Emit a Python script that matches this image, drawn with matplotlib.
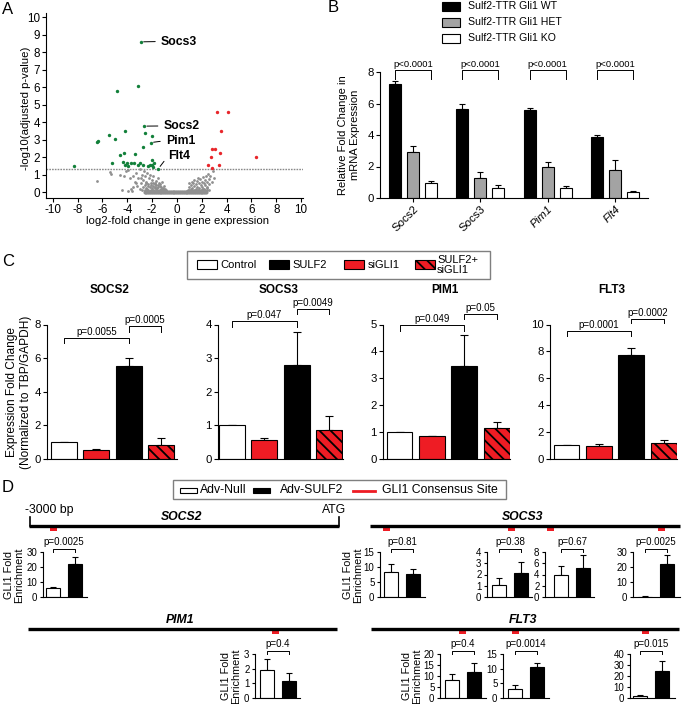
import numpy as np
import matplotlib
matplotlib.use('Agg')
import matplotlib.pyplot as plt
from matplotlib.patches import Rectangle

plt.rcParams['font.family'] = ['Liberation Sans', 'DejaVu Sans']
plt.rcParams['axes.unicode_minus'] = False
plt.rcParams['hatch.linewidth'] = 1.3
plt.rcParams['axes.linewidth'] = 0.8

RED = '#ee1c24'
W, H = 683, 704

# ---------------- A: volcano ----------------
green_pts = [(-2.9, 8.6), (-3.1, 6.08), (-4.85, 5.8), (-4.17, 3.52), (-2.64, 3.78),
             (-5.44, 3.3), (-4.98, 3.07), (-6.38, 2.95), (-6.46, 2.86), (-2.54, 3.41),
             (-1.97, 3.24), (-2.1, 2.84), (-2.75, 2.61), (-4.28, 2.27), (-4.58, 2.15),
             (-3.4, 2.21), (-2.0, 1.85), (-1.84, 1.7), (-8.31, 1.52), (-5.22, 1.7),
             (-4.36, 1.73), (-4.15, 1.54), (-3.93, 1.5), (-3.66, 1.7), (-3.45, 1.7),
             (-3.15, 1.54), (-2.97, 1.66), (-2.75, 1.54), (-2.16, 1.58), (-2.03, 1.54),
             (-1.92, 1.47), (-1.49, 1.35), (-2.35, 1.5), (-4.0, 1.7)]
red_pts = [(3.23, 4.57), (4.15, 4.57), (3.58, 3.49), (2.8, 2.46), (3.1, 2.46),
           (3.5, 2.27), (2.78, 2.04), (6.35, 2.04), (2.51, 1.58), (3.37, 1.58), (2.83, 1.41)]
gray_pts = [(-6.4, 0.65), (-5.4, 1.15), (-5.3, 1.05), (-4.6, 1.0), (-4.3, 0.9), (-4.1, 1.2),
            (-3.9, 1.25), (-3.7, 0.2), (-3.6, 0.05), (-3.5, 0.95), (-3.4, 0.6), (-3.3, 1.1),
            (-3.2, 0.35), (-3.1, 0.8), (-3.0, 1.3), (-2.9, 0.5), (-2.85, 1.0), (-2.8, 0.15),
            (-2.7, 0.7), (-2.65, 1.2), (-2.6, 0.4), (-2.55, 0.9), (-2.5, 0.25), (-2.45, 0.6),
            (-2.4, 1.1), (-2.35, 0.1), (-2.3, 0.45), (-2.25, 0.8), (-2.2, 0.3), (-2.15, 1.0),
            (-2.1, 0.55), (-2.05, 0.15), (-2.0, 0.7), (-1.95, 0.35), (-1.9, 0.9), (-1.85, 0.05),
            (-1.8, 0.5), (-1.75, 0.25), (-1.7, 0.65), (-1.65, 0.4), (-1.6, 0.1), (-1.55, 0.8),
            (-1.5, 0.3), (-1.45, 0.55), (-1.4, 0.15), (-1.35, 0.45), (-1.3, 0.05), (-1.25, 0.3),
            (-1.2, 0.6), (-1.15, 0.2), (-1.1, 0.1), (-1.05, 0.35), (-1.0, 0.05), (-0.95, 0.2),
            (-0.9, 0.1), (-0.85, 0.05), (-2.6, 0.1), (-2.4, 0.2), (-2.2, 0.05), (-2.0, 0.25),
            (-1.9, 0.15), (-1.8, 0.3), (-1.7, 0.1), (-1.6, 0.25), (-1.5, 0.05), (-1.4, 0.35),
            (-1.3, 0.2), (-1.2, 0.1), (-1.1, 0.25), (-2.3, 0.35), (-2.1, 0.4), (-1.95, 0.5),
            (-1.75, 0.45), (-1.55, 0.4), (-1.35, 0.15), (-2.5, 0.5), (-2.7, 0.3), (-3.0, 0.2),
            (-3.3, 0.5), (-3.5, 0.3), (-2.9, 0.8), (-3.8, 0.8), (-4.4, 0.15), (-3.9, 0.05),
            (0.85, 0.05), (0.9, 0.15), (0.95, 0.1), (1.0, 0.3), (1.05, 0.05), (1.1, 0.2),
            (1.15, 0.4), (1.2, 0.1), (1.25, 0.25), (1.3, 0.55), (1.35, 0.15), (1.4, 0.35),
            (1.45, 0.05), (1.5, 0.45), (1.55, 0.2), (1.6, 0.65), (1.65, 0.3), (1.7, 0.1),
            (1.75, 0.5), (1.8, 0.25), (1.85, 0.75), (1.9, 0.4), (1.95, 0.15), (2.0, 0.6),
            (2.05, 0.3), (2.1, 0.85), (2.15, 0.5), (2.2, 0.2), (2.25, 0.7), (2.3, 0.4),
            (2.35, 0.95), (2.4, 0.6), (2.45, 0.3), (2.5, 1.05), (2.55, 0.75), (2.6, 0.45),
            (2.7, 0.9), (2.8, 0.6), (2.9, 1.2), (3.0, 0.8), (1.0, 0.5), (1.2, 0.6), (1.4, 0.7),
            (1.7, 0.8), (1.3, 0.05), (1.6, 0.05), (1.9, 0.05), (2.2, 0.05), (2.4, 0.1),
            (1.5, 0.15), (1.8, 0.15), (2.0, 0.1), (2.3, 0.15), (2.6, 0.15), (2.1, 0.2), (2.4, 0.25)]
band_x = [-2.6, -2.45, -2.3, -2.15, -2.0, -1.85, -1.7, -1.55, -1.4, -1.25, -1.1, -0.95, -0.8,
          -0.65, -0.5, -0.35, -0.2, -0.05, 0.1, 0.25, 0.4, 0.55, 0.7, 0.85, 1.0, 1.15, 1.3,
          1.45, 1.6, 1.75, 1.9, 2.05, 2.2, 2.35]
labelled = {'Socs3': ((-2.9, 8.6), (-1.3, 8.62)),
            'Socs2': ((-2.64, 3.78), (-1.09, 3.79)),
            'Pim1': ((-2.1, 2.84), (-0.9, 2.95)),
            'Flt4': ((-1.49, 1.35), (-0.68, 2.1))}

# ---------------- B ----------------
b_genes = ['Socs2', 'Socs3', 'Pim1', 'Flt4']
b_wt = [7.22, 5.67, 5.59, 3.85]
b_wt_err = [0.18, 0.28, 0.12, 0.15]
b_het = [2.92, 1.27, 1.99, 1.78]
b_het_err = [0.36, 0.38, 0.30, 0.63]
b_ko = [0.97, 0.63, 0.63, 0.38]
b_ko_err = [0.13, 0.20, 0.13, 0.09]
b_legend = ['Sulf2-TTR Gli1 WT', 'Sulf2-TTR Gli1 HET', 'Sulf2-TTR Gli1 KO']

# ---------------- C ----------------
c_genes = ['SOCS2', 'SOCS3', 'PIM1', 'FLT3']
c_means = [[1.0, 0.53, 5.55, 0.85],
           [1.0, 0.57, 2.8, 0.85],
           [1.0, 0.85, 3.45, 1.15],
           [1.02, 0.94, 7.74, 1.17]]
c_errs = [[0, 0.05, 0.47, 0.40],
          [0, 0.05, 0.98, 0.42],
          [0, 0.02, 1.15, 0.21],
          [0, 0.15, 0.50, 0.22]]
c_ymax = [8, 4, 5, 10]
c_step = [2, 1, 1, 2]
c_p1 = ['p=0.0055', 'p=0.047', 'p=0.049', 'p=0.0001']
c_p1_y = [(6.9, 7.2), (3.94, 4.1), (4.76, 4.99), (9.16, 9.53)]
c_p2 = ['p=0.0005', 'p=0.0049', 'p=0.05', 'p=0.0002']
c_p2_y = [(7.58, 7.9), (4.31, 4.46), (5.21, 5.4), (10.1, 10.4)]

# ---------------- D ----------------
socs2_sites = [-2760]
socs2_null, socs2_null_err = [5.8], [0.7]
socs2_sulf2, socs2_sulf2_err = [22.1], [4.7]
socs2_p, socs2_ymax, socs2_step = ['p=0.0025'], [30], [10]

socs3_sites = [-2840, -1631, -1253, -179]
socs3_null = [8.5, 1.1, 4.0, 0.3]
socs3_null_err = [2.5, 0.55, 1.45, 0.2]
socs3_sulf2 = [7.8, 2.1, 5.2, 22.1]
socs3_sulf2_err = [1.5, 1.0, 2.3, 6.1]
socs3_p = ['p=0.81', 'p=0.38', 'p=0.67', 'p=0.0025']
socs3_ymax, socs3_step = [15, 4, 8, 30], [5, 1, 2, 10]

pim1_sites = [-597]
pim1_null, pim1_null_err = [1.92], [0.74]
pim1_sulf2, pim1_sulf2_err = [1.15], [0.54]
pim1_p, pim1_ymax, pim1_step = ['p=0.4'], [3], [1]

flt3_sites = [-2104, -1593, -327]
flt3_null = [8.0, 3.2, 1.5]
flt3_null_err = [2.8, 1.2, 1.3]
flt3_sulf2 = [12.0, 10.6, 24.6]
flt3_sulf2_err = [3.8, 1.5, 8.9]
flt3_p = ['p=0.4', 'p=0.0014', 'p=0.015']
flt3_ymax, flt3_step = [20, 15, 40], [5, 5, 10]

# ======================================================================
fig = plt.figure(figsize=(W / 100, H / 100), dpi=100)

ov = fig.add_axes([0, 0, 1, 1])
ov.set_xlim(0, W)
ov.set_ylim(H, 0)
ov.axis('off')


def px_axes(l, t, r, b):
    return fig.add_axes([l / W, 1 - b / H, (r - l) / W, (b - t) / H])


def ftext(x, y, s, **kw):
    fig.text(x / W, 1 - y / H, s, **kw)


def style(ax, labelsize=8, length=3):
    for s in ['top', 'right']:
        ax.spines[s].set_visible(False)
    ax.tick_params(direction='out', length=length, width=0.8, labelsize=labelsize, pad=1.5)


def bracket(ax, x1, x2, yb, yt, text, fs):
    ax.plot([x1, x1, x2, x2], [yb, yt, yt, yb], color='k', lw=0.7, clip_on=False)
    ax.annotate(text, ((x1 + x2) / 2, yt), xytext=(0, 0.8), textcoords='offset points',
                ha='center', va='bottom', fontsize=fs, annotation_clip=False)


# panel letters
for letter, x, y in [('A', 2, 10), ('B', 328, 8), ('C', 2, 262), ('D', 2, 487)]:
    ftext(x, y, letter, fontsize=12, va='center', ha='left')

# ---------------- A ----------------
ax = px_axes(46, 13, 303, 198)
gx, gy = zip(*gray_pts)
ax.scatter(gx, gy, s=4, color='#8f8f8f', lw=0, zorder=2)
ax.scatter(band_x, [0] * len(band_x), s=9, color='#8f8f8f', lw=0, zorder=2)
ax.plot([min(band_x), max(band_x)], [0.02, 0.02], color='#8f8f8f', lw=2.5, zorder=2,
        solid_capstyle='butt')
ax.axhline(1.3, color='#8a8a8a', lw=1, ls=(0, (1.2, 0.8)), zorder=1)
x, y = zip(*green_pts)
ax.scatter(x, y, s=6, color='#12803a', lw=0, zorder=3)
x, y = zip(*red_pts)
ax.scatter(x, y, s=6, color='#e8262b', lw=0, zorder=3)
for name, (pt, tp) in labelled.items():
    ax.annotate(name, pt, xytext=tp, fontsize=8.8, fontweight='bold', ha='left', va='center',
                arrowprops=dict(arrowstyle='-', lw=0.7, color='k', shrinkA=2, shrinkB=2,
                                relpos=(0, 0.5)))
ax.set_xlim(-10.54, 10.15)
ax.set_ylim(-0.33, 10.25)
ax.set_xticks(range(-10, 11, 2))
ax.set_yticks(range(0, 11))
style(ax, labelsize=8.4)
ftext(177, 221, 'log2-fold change in gene expression', fontsize=8.2, ha='center', va='center')
ftext(26, 108, '-log10(adjusted p-value)', fontsize=8.2, ha='center', va='center', rotation=90)

# ---------------- B ----------------
ax = px_axes(380, 72, 648, 198)
xg = np.arange(len(b_genes))
off, bw = 0.267, 0.178
for dx, vals, errs, col in [(-off, b_wt, b_wt_err, 'black'), (0, b_het, b_het_err, '#a3a3a3'),
                            (off, b_ko, b_ko_err, 'white')]:
    ax.bar(xg + dx, vals, width=bw, color=col, edgecolor='k', lw=0.8, zorder=2)
    ax.errorbar(xg + dx, vals, yerr=[np.zeros(len(vals)), errs], fmt='none', ecolor='k',
                elinewidth=0.8, capsize=2.2, capthick=0.8, zorder=1)
for i in xg:
    bracket(ax, i - off, i + off, 7.58, 8.15, 'p<0.0001', 6.8)
ax.set_xlim(-0.49, 3.49)
ax.set_ylim(0, 8)
ax.set_yticks([0, 2, 4, 6, 8])
ax.set_xticks(xg)
ax.set_xticklabels(b_genes, rotation=45, ha='right', rotation_mode='anchor')
style(ax, labelsize=8.2)
for lab in ax.get_xticklabels()[2:]:
    lab.set_style('italic')
ftext(349, 135, 'Relative Fold Change in\nmRNA Expression', fontsize=8, ha='center', va='center',
      rotation=90, multialignment='center')
for (lab, col, yy) in zip(b_legend, ['black', '#a3a3a3', 'white'], [6, 22, 38]):
    ov.add_patch(Rectangle((442, yy - 4.5), 18, 9, facecolor=col, edgecolor='k', lw=0.8))
    ftext(468, yy, lab, fontsize=7.6, va='center', ha='left')

# ---------------- C ----------------
c_boxes = [(47, 64, 177), (218, 232, 343), (383, 399.5, 510), (550, 566.5, 677)]
c_cols = ['white', RED, 'black', RED]
for k, gene in enumerate(c_genes):
    l, c0, r = c_boxes[k]
    ax = px_axes(l, 324.5, r, 459)
    xb = np.arange(4)
    bars = ax.bar(xb, c_means[k], width=0.8, color=c_cols, edgecolor='k', lw=0.8, zorder=2)
    bars[3].set_hatch('\\\\\\')
    ax.errorbar(xb, c_means[k], yerr=[np.zeros(4), c_errs[k]], fmt='none', ecolor='k',
                elinewidth=0.8, capsize=3, capthick=0.8, zorder=1)
    bracket(ax, 0, 2, c_p1_y[k][0], c_p1_y[k][1], c_p1[k], 7)
    bracket(ax, 2, 3, c_p2_y[k][0], c_p2_y[k][1], c_p2[k], 7)
    ax.set_xlim((l - c0) / 32.4, (r - c0) / 32.4)
    ax.set_ylim(0, c_ymax[k])
    ax.set_yticks(np.arange(0, c_ymax[k] + 1, c_step[k]))
    ax.set_xticks([])
    style(ax, labelsize=8.2)
    ftext((l + r) / 2 - 2, 290, gene, fontsize=8.5, fontweight='bold', ha='center', va='center')
ftext(19, 392, 'Expression Fold Change\n(Normalized to TBP/GAPDH)', fontsize=8.6, ha='center',
      va='center', rotation=90, multialignment='center')

# C legend
ov.add_patch(Rectangle((187, 251), 303, 28, facecolor='white', edgecolor='#7f7f7f', lw=1))
ov.add_patch(Rectangle((197, 260), 20, 9, facecolor='white', edgecolor='k', lw=0.8))
ftext(220, 265, 'Control', fontsize=8, va='center')
ov.add_patch(Rectangle((269, 260), 20, 9, facecolor='black', edgecolor='k', lw=0.8))
ftext(292, 265, 'SULF2', fontsize=8, va='center')
ov.add_patch(Rectangle((344, 260), 20, 9, facecolor=RED, edgecolor='k', lw=0.8))
ftext(368, 265, 'siGLI1', fontsize=8, va='center')
ov.add_patch(Rectangle((415, 260), 20, 9, facecolor=RED, edgecolor='k', lw=0.8, hatch='\\\\\\'))
ftext(437, 265, 'SULF2+\nsiGLI1', fontsize=8, va='center', linespacing=0.9)

# ---------------- D ----------------
ov.add_patch(Rectangle((173, 480), 333, 19, facecolor='white', edgecolor='#7f7f7f', lw=1))
ov.add_patch(Rectangle((180, 488), 17, 5, facecolor='white', edgecolor='k', lw=0.8))
ftext(200, 490, 'Adv-Null', fontsize=8.8, va='center')
ov.add_patch(Rectangle((253, 488), 17, 5, facecolor='black', edgecolor='k', lw=0.8))
ftext(280, 490, 'Adv-SULF2', fontsize=8.8, va='center')
ov.plot([353, 375], [490.5, 490.5], color=RED, lw=2)
ftext(382, 490, 'GLI1 Consensus Site', fontsize=8.8, va='center')


def gene_line(x0, x1, y, name, sites):
    ov.plot([x0, x1], [y, y], color='k', lw=2.4, solid_capstyle='butt')
    for s in sites:
        cx = x0 + (s + 3000) / 3000 * (x1 - x0)
        ov.add_patch(Rectangle((cx - 3.5, y + 1.5), 7, 3.5, facecolor=RED, edgecolor='none'))
    ftext((x0 + x1) / 2 - 2, y - 9, name, fontsize=8.8, fontweight='bold', style='italic',
          ha='center', va='center')


gene_line(29, 339, 526, 'SOCS2', socs2_sites)
ov.plot([29.5, 29.5], [517, 526], color='k', lw=1.2)
ov.plot([338.5, 338.5], [517, 526], color='k', lw=1.2)
ftext(25, 510, '-3000 bp', fontsize=8.8, va='center', ha='left')
ftext(346, 510, 'ATG', fontsize=8.8, va='center', ha='right')
gene_line(370, 680, 526, 'SOCS3', socs3_sites)
gene_line(28, 337, 629, 'PIM1', pim1_sites)
gene_line(371, 679, 629, 'FLT3', flt3_sites)


def chip_axes(box, bottom, top, null, null_err, sulf2, sulf2_err, ymax, step, ptext):
    left, wl, right = box
    c0 = wl + 7
    ax = px_axes(left, top, right, bottom)
    vals = [null, sulf2]
    ax.bar([0, 1], vals, width=14 / 22, color=['white', 'black'], edgecolor='k', lw=0.8,
           zorder=2)
    ax.errorbar([0, 1], vals, yerr=[[0, 0], [null_err, sulf2_err]], fmt='none', ecolor='k',
                elinewidth=0.8, capsize=2, capthick=0.8, zorder=1)
    bracket(ax, 0, 1, ymax, ymax * (1 + 3.5 / (bottom - top)), ptext, 7)
    ax.set_xlim((left - c0) / 22, (right - c0) / 22)
    ax.set_ylim(0, ymax)
    ax.set_yticks(np.arange(0, ymax + 1, step))
    ax.set_xticks([])
    style(ax, labelsize=7, length=2.5)


def chip_row(boxes, bottom, top, null, null_err, sulf2, sulf2_err, ymax, step, pv):
    for i, box in enumerate(boxes):
        chip_axes(box, bottom, top, null[i], null_err[i], sulf2[i], sulf2_err[i], ymax[i],
                  step[i], pv[i])


chip_row([(43, 46, 87)], 597, 552, socs2_null, socs2_null_err, socs2_sulf2, socs2_sulf2_err,
         socs2_ymax, socs2_step, socs2_p)
chip_row([(380, 384, 425), (487, 492, 532), (545, 554, 594), (633, 638, 680)], 597, 552,
         socs3_null, socs3_null_err, socs3_sulf2, socs3_sulf2_err, socs3_ymax, socs3_step,
         socs3_p)
chip_row([(255, 260, 300)], 698, 654, pim1_null, pim1_null_err, pim1_sulf2, pim1_sulf2_err,
         pim1_ymax, pim1_step, pim1_p)
chip_row([(440, 445, 486), (503, 508, 549), (630, 633, 675)], 698, 654, flt3_null,
         flt3_null_err, flt3_sulf2, flt3_sulf2_err, flt3_ymax, flt3_step, flt3_p)

for x, y in [(14, 575), (353, 575), (231, 676), (412, 676)]:
    ftext(x, y, 'GLI1 Fold\nEnrichment', fontsize=7.8, rotation=90, ha='center', va='center',
          multialignment='center', linespacing=0.95)

fig.savefig('out.png', dpi=100)
